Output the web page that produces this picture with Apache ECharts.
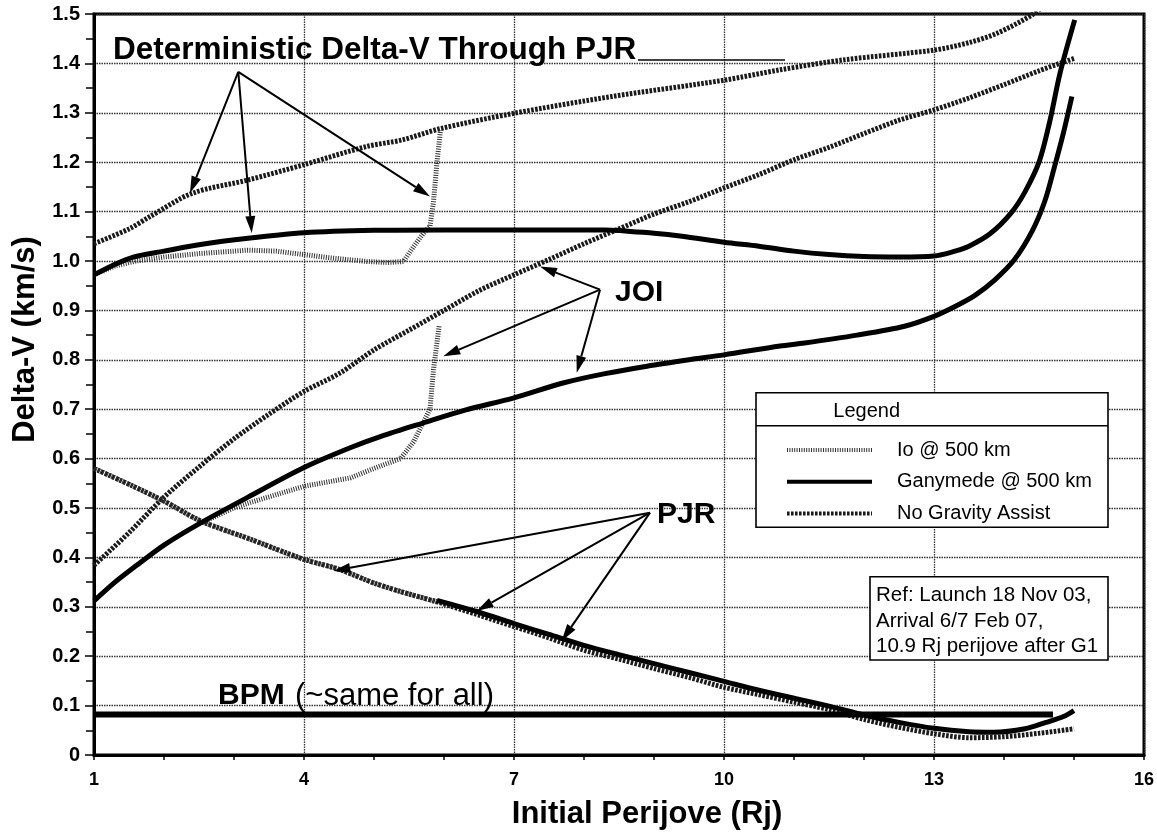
<!DOCTYPE html>
<html>
<head>
<meta charset="utf-8">
<script src="https://cdn.jsdelivr.net/npm/echarts@6/dist/echarts.min.js"></script>
<style>
html,body{margin:0;padding:0;background:#fff;}
#c{width:1157px;height:835px;}
</style>
</head>
<body>
<div id="c"></div>
<script>
// ---- tick labels ----
const xTickLabels = ['1', '4', '7', '10', '13', '16'];
const yTickLabels = ['0', '0.1', '0.2', '0.3', '0.4', '0.5', '0.6', '0.7', '0.8', '0.9', '1.0', '1.1', '1.2', '1.3', '1.4', '1.5'];

// ---- No Gravity Assist ----
const noGaDet = [[1.0,1.035],[1.5,1.065],[1.8,1.09],[2.4,1.137],[3.2,1.164],[4.0,1.195],[4.9,1.232],[5.4,1.245],[5.95,1.268],[7.0,1.299],[8.4,1.333],[10.0,1.366],[10.8,1.387],[11.7,1.407],[13.0,1.427],[13.5,1.442],[13.9,1.461],[14.4,1.498],[14.6,1.52]];
const noGaJoi = [[1.0,0.384],[1.5,0.45],[2.0,0.522],[2.5,0.583],[3.0,0.64],[3.5,0.69],[4.0,0.736],[4.5,0.772],[5.0,0.82],[5.5,0.86],[6.0,0.9],[6.5,0.94],[7.0,0.972],[7.5,1.003],[8.0,1.035],[8.5,1.065],[9.0,1.095],[9.5,1.12],[10.0,1.148],[10.5,1.175],[11.0,1.205],[11.5,1.23],[12.0,1.258],[12.5,1.285],[13.0,1.306],[13.5,1.33],[14.0,1.357],[14.5,1.385],[15.0,1.41]];
const noGaPjr = [[1.0,0.58],[1.56,0.544],[2.04,0.511],[2.52,0.474],[3.23,0.437],[4.0,0.396],[4.5,0.376],[5.0,0.348],[5.4,0.33],[5.9,0.31],[6.5,0.283],[7.0,0.26],[7.5,0.237],[8.0,0.212],[8.5,0.194],[9.0,0.175],[9.5,0.157],[10.0,0.137],[10.5,0.122],[11.0,0.107],[11.5,0.092],[12.0,0.072],[12.5,0.056],[13.0,0.043],[13.5,0.035],[14.0,0.037],[14.5,0.044],[15.0,0.053]];

// ---- Io @ 500 km ----
const ioDet = [[1.0,0.972],[1.3,0.99],[1.6,1.0],[2.0,1.008],[2.5,1.015],[3.2,1.022],[3.6,1.02],[4.0,1.013],[4.4,1.006],[4.9,0.999],[5.2,0.997],[5.42,0.999],[5.57,1.03],[5.7,1.055],[5.8,1.07],[5.85,1.12],[5.9,1.2],[5.95,1.265]];
const ioJoi = [[2.5,0.468],[3.0,0.5],[3.23,0.511],[4.0,0.544],[4.66,0.561],[5.09,0.585],[5.38,0.6],[5.57,0.635],[5.71,0.675],[5.8,0.7],[5.85,0.78],[5.93,0.868]];
const ioPjr = [[1.0,0.58],[1.56,0.544],[2.04,0.511],[2.52,0.474],[3.23,0.437],[4.0,0.396],[4.5,0.376],[5.0,0.348],[5.4,0.33],[5.9,0.31]];

// ---- Ganymede @ 500 km ----
const ganDet = [[1.0,0.972],[1.25,0.99],[1.56,1.008],[2.0,1.02],[2.5,1.033],[3.2,1.046],[4.0,1.057],[5.0,1.062],[6.0,1.063],[7.0,1.063],[8.3,1.063],[9.0,1.056],[9.4,1.05],[10.0,1.038],[10.5,1.03],[11.0,1.02],[11.5,1.013],[12.0,1.009],[12.5,1.008],[13.0,1.01],[13.3,1.02],[13.5,1.03],[13.8,1.055],[14.1,1.097],[14.3,1.14],[14.5,1.2],[14.65,1.28],[14.8,1.38],[15.01,1.488]];
const ganJoi = [[1.0,0.312],[1.3,0.35],[1.6,0.383],[2.0,0.425],[2.5,0.468],[3.2,0.522],[4.0,0.582],[4.66,0.622],[5.1,0.645],[5.7,0.672],[6.3,0.698],[7.0,0.723],[7.7,0.753],[8.3,0.772],[8.9,0.787],[9.5,0.8],[10.0,0.81],[10.8,0.828],[11.15,0.834],[11.9,0.85],[12.58,0.868],[13.0,0.888],[13.3,0.908],[13.58,0.93],[13.87,0.962],[14.15,1.003],[14.4,1.06],[14.58,1.12],[14.72,1.19],[14.85,1.26],[14.97,1.333]];
const ganPjr = [[5.9,0.313],[6.5,0.289],[7.0,0.266],[7.5,0.244],[8.0,0.222],[8.5,0.203],[9.0,0.185],[9.5,0.167],[10.0,0.149],[10.5,0.131],[11.0,0.115],[11.5,0.099],[12.0,0.081],[12.5,0.066],[13.0,0.054],[13.5,0.047],[13.85,0.046],[14.3,0.053],[14.6,0.066],[14.85,0.078],[15.0,0.09]];

// ---- BPM ----
const bpm = [[1.0,0.082],[14.7,0.082]];

// ---- annotation anchors (data coordinates) ----
const detApex = [3.061, 1.383];
const detTargets = [[2.371,1.1375],[3.253,1.0567],[5.8,1.1307]];
const joiApex = [8.229, 0.942];
const joiTargets = [[7.371,0.989],[5.99,0.807],[7.896,0.774]];
const pjrApex = [8.943, 0.4906];
const pjrTargets = [[4.419,0.3726],[6.467,0.2917],[7.681,0.231]];

const FONT = '"Liberation Sans", Arial, Helvetica, sans-serif';
const IO = 'Io @ 500 km', GAN = 'Ganymede @ 500 km', NOGA = 'No Gravity Assist';

const ioStyle = {color:'#333', width:5, type:[1,1.4], cap:'butt'};
const ganStyle = {color:'#000', width:5, type:'solid', cap:'butt'};
const noGaStyle = {color:'#1a1a1a', width:5, type:[2.6,1.4], cap:'butt'};

function mk(name, data, style, smooth){
  return {name:name, type:'line', data:data, showSymbol:false, symbol:'none',
    smooth:smooth, lineStyle:style, itemStyle:{color:style.color}, clip:true, z:2, silent:true};
}

const chart = echarts.init(document.getElementById('c'), null, {renderer:'canvas', width:1157, height:835});

const option = {
  animation:false,
  backgroundColor:'#fff',
  grid:{left:94, right:13, top:14, bottom:79, show:true, borderColor:'#000', borderWidth:3, backgroundColor:'transparent'},
  xAxis:{
    type:'value', min:1, max:16, interval:3,
    name:'Initial Perijove (Rj)', nameLocation:'middle', nameGap:44,
    nameTextStyle:{fontFamily:FONT, fontWeight:'bold', fontSize:31, color:'#000', padding:[0,0,0,56]},
    axisLine:{show:true, lineStyle:{color:'#000', width:3}},
    axisTick:{show:true, inside:false, length:5, lineStyle:{color:'#000', width:1.5}},
    minorTick:{show:true, splitNumber:3, length:5, lineStyle:{color:'#000', width:1.5}},
    axisLabel:{margin:16, fontFamily:FONT, fontWeight:'bold', fontSize:18, color:'#000',
      formatter:function(v){ const i = Math.round((v-1)/3); return xTickLabels[i] !== undefined ? xTickLabels[i] : ''; }},
    splitLine:{show:true, lineStyle:{color:'#333', width:1.3, type:[1.5,1]}},
    minorSplitLine:{show:false}
  },
  yAxis:{
    type:'value', min:0, max:1.5, interval:0.1,
    name:'Delta-V (km/s)', nameLocation:'middle', nameGap:51, nameRotate:90,
    nameTextStyle:{fontFamily:FONT, fontWeight:'bold', fontSize:31, color:'#000', padding:[0,0,0,90]},
    axisLine:{show:true, lineStyle:{color:'#000', width:3}},
    axisTick:{show:true, inside:false, length:9, lineStyle:{color:'#000', width:1.5}},
    minorTick:{show:true, splitNumber:2, length:8, lineStyle:{color:'#000', width:1.5}},
    axisLabel:{margin:14, fontFamily:FONT, fontWeight:'bold', fontSize:20, color:'#000',
      formatter:function(v){ const i = Math.round(v*10); return yTickLabels[i] !== undefined ? yTickLabels[i] : ''; }},
    splitLine:{show:true, lineStyle:{color:'#333', width:1.3, type:[1.5,1]}}
  },
  legend:{
    show:true, orient:'vertical', left:780, top:435, itemWidth:85, itemHeight:12, itemGap:11.7,
    data:[IO, GAN, NOGA], selectedMode:false, z:6,
    itemStyle:{opacity:0, borderWidth:0},
    lineStyle:{width:4},
    textStyle:{fontFamily:FONT, fontSize:20, color:'#000', lineHeight:20, padding:[0,0,0,20]}
  },
  series:[
    mk(NOGA, noGaDet, noGaStyle, 0.3),
    mk(NOGA, noGaJoi, noGaStyle, 0.3),
    mk(NOGA, noGaPjr, noGaStyle, 0.3),
    mk(IO, ioDet, ioStyle, false),
    mk(IO, ioJoi, ioStyle, false),
    mk(IO, ioPjr, ioStyle, 0.3),
    mk(GAN, ganDet, ganStyle, 0.3),
    mk(GAN, ganJoi, ganStyle, 0.3),
    mk(GAN, ganPjr, ganStyle, 0.3),
    {name:'BPM', type:'line', data:bpm, showSymbol:false, symbol:'none', lineStyle:{color:'#000', width:6}, z:2, silent:true}
  ]
};
chart.setOption(option);

function px(p){ return chart.convertToPixel({gridIndex:0}, p); }
function arrows(apex, targets){
  const out = [];
  const a = px(apex);
  targets.forEach(function(t){
    const b = px(t);
    const dx = b[0]-a[0], dy = b[1]-a[1];
    const len = Math.sqrt(dx*dx+dy*dy);
    const ux = dx/len, uy = dy/len;
    const L = 17, W = 5;
    const bx = b[0]-ux*L, by = b[1]-uy*L;
    out.push({type:'line', z:10, silent:true, shape:{x1:a[0], y1:a[1], x2:bx, y2:by}, style:{stroke:'#000', lineWidth:2}});
    out.push({type:'polygon', z:10, silent:true, shape:{points:[[b[0],b[1]],[bx-uy*W, by+ux*W],[bx+uy*W, by-ux*W]]}, style:{fill:'#000'}});
  });
  return out;
}
function txt(x, y, text, size, weight, align){
  return {type:'text', z:11, silent:true, x:x, y:y,
    style:{text:text, font:(weight||'normal')+' '+size+'px '+FONT, fill:'#000', align:align||'left', verticalAlign:'middle'}};
}

const g = [];
// legend box
g.push({type:'rect', z:4, silent:true, shape:{x:756, y:392.7, width:352, height:134.6}, style:{fill:'#fff', stroke:'#000', lineWidth:1.6}});
g.push({type:'line', z:4, silent:true, shape:{x1:756, y1:425.7, x2:1108, y2:425.7}, style:{stroke:'#000', lineWidth:1.6}});
g.push(txt(866.7, 411, 'Legend', 20, 'normal', 'center'));
// reference box
g.push({type:'rect', z:4, silent:true, shape:{x:870, y:576.7, width:238, height:83.3}, style:{fill:'#fff', stroke:'#000', lineWidth:1.6}});
g.push(txt(876, 595, 'Ref: Launch 18 Nov 03,', 20.5));
g.push(txt(876, 621, 'Arrival 6/7 Feb 07,', 20.5));
g.push(txt(876, 646.7, '10.9 Rj perijove after G1', 20.5));
// labels
g.push(txt(113, 50, 'Deterministic Delta-V Through PJR', 31.5, 'bold'));
g.push({type:'line', z:10, silent:true, shape:{x1:638, y1:60, x2:785, y2:60}, style:{stroke:'#000', lineWidth:1.5}});
g.push(txt(615, 293, 'JOI', 30, 'bold'));
g.push(txt(657, 515, 'PJR', 30, 'bold'));
g.push(txt(218, 696, 'BPM', 30, 'bold'));
g.push(txt(295, 696, '(~same for all)', 31, 'normal'));
[].push.apply(g, arrows(detApex, detTargets));
[].push.apply(g, arrows(joiApex, joiTargets));
[].push.apply(g, arrows(pjrApex, pjrTargets));

chart.setOption({graphic:{elements:g}});
</script>
</body>
</html>
